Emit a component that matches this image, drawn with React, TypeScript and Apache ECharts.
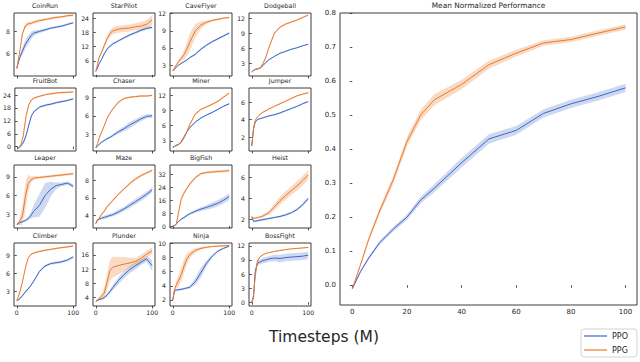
import React, { useEffect, useRef } from "react";
import * as echarts from "echarts";

// Timesteps (M) at which values were read
const STEPS = [0, 3, 6, 10, 15, 20, 25, 30, 40, 50, 60, 70, 80, 90, 100];

const ENV_NAMES = [
  "CoinRun", "StarPilot", "CaveFlyer", "Dodgeball",
  "FruitBot", "Chaser", "Miner", "Jumper",
  "Leaper", "Maze", "BigFish", "Heist",
  "Climber", "Plunder", "Ninja", "BossFight",
];

const PPO_RETURNS: number[][] = [
  [4.6, 5.2, 5.7, 6.2, 6.8, 7.2, 7.6, 7.85, 8.0, 8.15, 8.3, 8.4, 8.5, 8.65, 8.8],
  [1.5, 3.0, 4.8, 6.5, 9.0, 11.0, 12.2, 13.2, 14.5, 15.8, 17.0, 18.0, 19.0, 19.8, 20.3],
  [2.0, 2.3, 2.6, 3.0, 3.3, 3.6, 3.9, 4.3, 4.9, 5.8, 6.5, 7.1, 7.6, 8.1, 8.6],
  [1.3, 1.6, 1.8, 1.9, 2.1, 2.6, 3.2, 3.7, 4.4, 5.0, 5.4, 5.8, 6.1, 6.5, 6.8],
  [-0.8, -0.3, 0.5, 1.8, 5.0, 10.0, 14.5, 16.5, 18.5, 19.3, 19.8, 20.5, 21.0, 21.5, 22.3],
  [0.8, 1.1, 1.4, 1.7, 2.0, 2.3, 2.5, 2.8, 3.4, 3.9, 4.5, 5.0, 5.5, 5.9, 6.0],
  [1.7, 1.9, 2.1, 2.3, 2.8, 3.8, 4.8, 5.6, 6.7, 7.5, 8.1, 8.6, 9.2, 9.8, 10.3],
  [1.0, 2.9, 3.7, 4.0, 4.1, 4.2, 4.3, 4.4, 4.55, 4.75, 5.0, 5.25, 5.5, 5.8, 6.05],
  [1.4, 1.5, 1.7, 1.8, 2.0, 2.3, 2.8, 3.5, 4.4, 6.0, 7.0, 7.6, 7.8, 8.0, 7.5],
  [3.1, 3.5, 3.6, 3.7, 3.8, 3.9, 4.0, 4.1, 4.4, 4.75, 5.15, 5.55, 5.95, 6.4, 6.9],
  [0, 0.3, 1.2, 2.8, 4.3, 5.3, 6.5, 7.6, 9.2, 10.5, 11.6, 12.8, 14.2, 16.0, 18.2],
  [2.2, 1.85, 1.85, 1.9, 1.95, 2.0, 2.05, 2.1, 2.2, 2.3, 2.45, 2.65, 2.95, 3.4, 4.0],
  [1.5, 1.6, 1.9, 2.3, 2.9, 3.4, 4.0, 4.7, 6.3, 7.2, 7.6, 7.75, 7.9, 8.2, 8.7],
  [2.8, 3.1, 3.3, 3.5, 3.9, 4.6, 5.6, 6.7, 8.7, 10.4, 11.8, 12.9, 13.9, 14.9, 13.0],
  [2.0, 3.3, 3.4, 3.45, 3.5, 3.6, 3.7, 3.8, 4.6, 5.9, 7.2, 8.2, 8.9, 9.3, 9.6],
  [0, 1.0, 6.5, 8.3, 8.6, 8.9, 9.0, 9.2, 9.4, 9.3, 9.5, 9.6, 9.7, 9.8, 10.0],
];

const PPG_RETURNS: number[][] = [
  [4.6, 5.5, 6.4, 7.8, 8.5, 8.7, 8.75, 8.85, 9.0, 9.1, 9.2, 9.3, 9.35, 9.45, 9.5],
  [1.5, 4.5, 7.5, 9.5, 12.5, 15.5, 17.5, 18.8, 19.5, 19.8, 20.0, 20.5, 20.8, 21.5, 23.5],
  [2.0, 2.5, 3.0, 3.6, 4.2, 4.8, 5.8, 7.0, 9.0, 10.0, 10.5, 10.8, 11.0, 11.2, 11.3],
  [1.3, 1.6, 1.8, 1.9, 2.1, 3.0, 4.3, 6.0, 9.0, 10.2, 10.8, 11.2, 11.6, 12.1, 12.6],
  [-0.8, 0, 1.0, 5.0, 14.0, 19.5, 21.8, 22.7, 23.5, 24.2, 24.6, 25.0, 25.2, 25.3, 25.5],
  [0.8, 1.5, 2.4, 3.3, 4.4, 5.6, 6.4, 7.1, 8.2, 8.8, 9.0, 9.1, 9.2, 9.2, 9.3],
  [1.7, 1.9, 2.1, 2.3, 2.7, 3.6, 4.8, 6.2, 8.3, 9.2, 9.7, 10.2, 10.8, 11.6, 12.4],
  [1.0, 3.0, 3.9, 4.3, 4.6, 4.85, 5.0, 5.2, 5.5, 5.8, 6.1, 6.4, 6.7, 6.9, 7.05],
  [1.4, 1.6, 2.0, 2.8, 5.7, 7.9, 8.5, 8.8, 8.9, 9.0, 9.1, 9.2, 9.3, 9.4, 9.5],
  [3.1, 3.5, 3.7, 4.1, 4.5, 5.0, 5.35, 5.7, 6.4, 7.0, 7.6, 8.1, 8.5, 8.8, 9.1],
  [0, 0.3, 1.0, 8.0, 17.0, 20.5, 23.3, 26.0, 30.0, 32.5, 33.2, 33.5, 33.8, 34.0, 34.3],
  [2.3, 2.1, 2.15, 2.2, 2.25, 2.35, 2.5, 2.65, 3.2, 3.8, 4.3, 4.75, 5.2, 5.7, 6.25],
  [1.5, 2.2, 3.1, 4.6, 6.8, 8.5, 9.1, 9.35, 9.6, 9.8, 9.95, 10.1, 10.25, 10.35, 10.5],
  [2.8, 3.2, 3.7, 4.2, 5.2, 8.4, 11.5, 12.5, 13.0, 13.4, 13.7, 14.2, 15.0, 16.2, 17.2],
  [2.0, 3.5, 4.1, 4.7, 5.6, 6.8, 7.8, 8.4, 9.0, 9.3, 9.45, 9.55, 9.6, 9.65, 9.7],
  [0, 1.5, 5.5, 8.8, 9.7, 10.1, 10.4, 10.55, 10.8, 11.0, 11.2, 11.35, 11.45, 11.55, 11.65],
];

// half-width of the shaded band around each curve
const PPO_SPREAD: number[][] = [
  [0.05, 0.1, 0.2, 0.35, 0.4, 0.4, 0.35, 0.25, 0.15, 0.12, 0.1, 0.1, 0.1, 0.1, 0.1],
  [0.2, 0.3, 0.4, 0.4, 0.5, 0.5, 0.5, 0.5, 0.5, 0.5, 0.5, 0.6, 0.6, 0.6, 0.6],
  [0.05, 0.1, 0.1, 0.1, 0.15, 0.15, 0.15, 0.15, 0.2, 0.2, 0.2, 0.2, 0.2, 0.2, 0.2],
  [0.1, 0.1, 0.1, 0.12, 0.12, 0.12, 0.12, 0.12, 0.12, 0.12, 0.12, 0.12, 0.12, 0.12, 0.12],
  [0.3, 0.3, 0.4, 0.5, 0.8, 0.8, 0.6, 0.5, 0.5, 0.5, 0.5, 0.5, 0.5, 0.5, 0.5],
  [0.05, 0.1, 0.1, 0.15, 0.15, 0.2, 0.2, 0.25, 0.3, 0.4, 0.5, 0.45, 0.4, 0.35, 0.3],
  [0.1, 0.1, 0.15, 0.15, 0.15, 0.15, 0.15, 0.15, 0.15, 0.15, 0.15, 0.15, 0.15, 0.15, 0.15],
  [0.05, 0.08, 0.08, 0.08, 0.08, 0.08, 0.08, 0.08, 0.08, 0.08, 0.08, 0.08, 0.08, 0.08, 0.08],
  [0.1, 0.1, 0.1, 0.15, 0.2, 0.3, 0.5, 1.0, 1.8, 2.0, 1.2, 0.5, 0.3, 0.3, 0.3],
  [0.05, 0.1, 0.1, 0.15, 0.2, 0.2, 0.2, 0.2, 0.25, 0.25, 0.3, 0.3, 0.3, 0.3, 0.3],
  [0.2, 0.3, 0.4, 0.5, 0.6, 0.8, 0.8, 0.8, 1.0, 1.2, 1.5, 1.8, 2.0, 2.0, 2.0],
  [0.1, 0.1, 0.1, 0.1, 0.1, 0.1, 0.1, 0.1, 0.1, 0.1, 0.1, 0.1, 0.12, 0.15, 0.15],
  [0.1, 0.15, 0.2, 0.2, 0.2, 0.2, 0.2, 0.2, 0.2, 0.2, 0.2, 0.2, 0.2, 0.2, 0.2],
  [0.1, 0.2, 0.2, 0.3, 0.4, 0.5, 0.6, 0.8, 1.0, 1.0, 1.0, 1.0, 0.8, 0.8, 1.5],
  [0.1, 0.15, 0.15, 0.15, 0.15, 0.15, 0.15, 0.2, 0.5, 0.7, 0.4, 0.2, 0.15, 0.1, 0.1],
  [0.1, 0.5, 0.8, 0.5, 0.5, 0.6, 0.6, 0.6, 0.7, 0.8, 0.8, 0.8, 0.8, 0.8, 0.8],
];

const PPG_SPREAD: number[][] = [
  [0.05, 0.1, 0.1, 0.15, 0.2, 0.2, 0.15, 0.15, 0.12, 0.1, 0.1, 0.1, 0.1, 0.1, 0.1],
  [0.2, 0.4, 0.6, 0.8, 1.0, 1.2, 1.5, 1.5, 1.5, 1.5, 1.5, 1.5, 1.8, 1.8, 2.0],
  [0.1, 0.15, 0.2, 0.3, 0.5, 0.8, 1.2, 1.5, 1.2, 0.6, 0.3, 0.2, 0.2, 0.15, 0.15],
  [0.1, 0.1, 0.1, 0.1, 0.15, 0.2, 0.3, 0.3, 0.25, 0.2, 0.2, 0.15, 0.15, 0.15, 0.15],
  [0.3, 0.3, 0.4, 0.8, 1.0, 0.6, 0.5, 0.4, 0.4, 0.4, 0.4, 0.4, 0.4, 0.4, 0.4],
  [0.05, 0.1, 0.15, 0.2, 0.2, 0.2, 0.2, 0.2, 0.2, 0.15, 0.15, 0.15, 0.15, 0.15, 0.15],
  [0.1, 0.1, 0.15, 0.15, 0.2, 0.25, 0.25, 0.25, 0.2, 0.2, 0.2, 0.2, 0.2, 0.2, 0.2],
  [0.05, 0.08, 0.08, 0.08, 0.08, 0.08, 0.08, 0.08, 0.08, 0.08, 0.08, 0.08, 0.08, 0.08, 0.08],
  [0.1, 0.3, 0.8, 1.5, 2.2, 1.5, 0.5, 0.3, 0.2, 0.2, 0.2, 0.2, 0.2, 0.2, 0.2],
  [0.05, 0.1, 0.1, 0.15, 0.15, 0.15, 0.15, 0.15, 0.15, 0.15, 0.15, 0.15, 0.15, 0.15, 0.15],
  [0.2, 0.3, 0.5, 1.0, 1.2, 1.0, 1.0, 1.0, 0.8, 0.8, 0.8, 0.8, 0.8, 0.8, 0.8],
  [0.1, 0.1, 0.1, 0.1, 0.1, 0.15, 0.15, 0.2, 0.3, 0.35, 0.4, 0.4, 0.45, 0.45, 0.45],
  [0.1, 0.15, 0.15, 0.15, 0.15, 0.15, 0.15, 0.15, 0.15, 0.15, 0.15, 0.15, 0.15, 0.15, 0.15],
  [0.1, 0.2, 0.4, 0.8, 1.5, 2.5, 3.0, 3.0, 2.5, 2.0, 1.5, 1.0, 1.0, 1.0, 1.0],
  [0.1, 0.3, 0.5, 0.8, 1.0, 1.0, 0.8, 0.5, 0.3, 0.2, 0.15, 0.1, 0.1, 0.1, 0.1],
  [0.1, 0.4, 0.6, 0.4, 0.2, 0.15, 0.1, 0.1, 0.1, 0.1, 0.1, 0.1, 0.1, 0.1, 0.1],
];

const Y_LIMITS: [number, number][] = [
  [3.9, 9.7], [-0.5, 26.4], [1.1, 12.1], [0.5, 13.0],
  [-2.0, 27.3], [0.3, 10.5], [1.0, 13.4], [0.4, 7.6],
  [0.8, 10.9], [2.6, 9.7], [-1.2, 37.8], [1.2, 7.2],
  [0.6, 11.0], [1.5, 19.4], [1.15, 10.05], [-0.8, 12.6],
];

const Y_TICKS: number[][] = [
  [6, 8], [6, 12, 18, 24], [3, 6, 9, 12], [3, 6, 9, 12],
  [0, 6, 12, 18, 24], [3, 6, 9], [3, 6, 9, 12], [2, 4, 6],
  [3, 6, 9], [4, 6, 8], [0, 8, 16, 24, 32], [2, 4, 6],
  [3, 6, 9], [4, 8, 12, 16], [2, 4, 6, 8, 10], [0, 3, 6, 9, 12],
];

const SMALL_X_TICKS = [0, 100];

const MEAN_PPO = [-0.01, 0.04, 0.08, 0.125, 0.165, 0.2, 0.25, 0.285, 0.36, 0.43, 0.455, 0.505, 0.533, 0.555, 0.58];
const MEAN_PPG = [-0.01, 0.06, 0.135, 0.218, 0.31, 0.422, 0.5, 0.545, 0.59, 0.648, 0.682, 0.712, 0.722, 0.741, 0.759];
const MEAN_PPO_SPREAD = [0.003, 0.004, 0.005, 0.006, 0.007, 0.008, 0.01, 0.012, 0.014, 0.014, 0.013, 0.012, 0.012, 0.012, 0.012];
const MEAN_PPG_SPREAD = [0.003, 0.005, 0.007, 0.01, 0.012, 0.014, 0.016, 0.016, 0.014, 0.012, 0.01, 0.008, 0.008, 0.008, 0.008];
const MEAN_Y_TICKS = [0, 0.1, 0.2, 0.3, 0.4, 0.5, 0.6, 0.7, 0.8];
const MEAN_X_TICKS = [0, 20, 40, 60, 80, 100];

const ALGOS = ["PPO", "PPG"];

const FONT = "DejaVu Sans";
const INK = "#262626";
const COLORS: Record<string, string> = { PPO: "#3c67c6", PPG: "#ea7a2b" };
const BAND_COLORS: Record<string, string> = { PPO: "rgba(60,103,198,0.25)", PPG: "rgba(234,122,43,0.28)" };

const COL_LEFT = [14, 93, 170, 249];
const ROW_TOP = [13, 88, 165, 243];
const SMALL_W = 62;
const SMALL_H = 63;
const BIG = { left: 340, top: 13, width: 297, height: 292 };

function buildOption() {
  const grid: any[] = [];
  const xAxis: any[] = [];
  const yAxis: any[] = [];
  const series: any[] = [];
  const graphic: any[] = [];

  const addPanel = (
    idx: number,
    box: { left: number; top: number; width: number; height: number },
    yLim: [number, number],
    yTicks: number[],
    xLim: [number, number],
    xTicks: number[],
    showXLabels: boolean,
    fontSize: number,
    yFmt: (v: number) => string,
    values: Record<string, number[]>,
    spreads: Record<string, number[]>,
    lineWidth: number
  ) => {
    grid.push({
      left: box.left, top: box.top, width: box.width, height: box.height,
      show: true, borderColor: INK, borderWidth: 0.9, backgroundColor: "transparent",
      containLabel: false,
    });
    xAxis.push({
      type: "value", gridIndex: idx, min: xLim[0], max: xLim[1],
      axisLine: { show: false },
      splitLine: { show: false },
      axisTick: { show: true, inside: false, length: 2.5, customValues: xTicks, lineStyle: { color: INK, width: 0.8 } },
      axisLabel: {
        show: showXLabels, customValues: xTicks, margin: 3.5,
        fontFamily: FONT, fontSize, color: INK, showMinLabel: true, showMaxLabel: true,
      },
    });
    yAxis.push({
      type: "value", gridIndex: idx, min: yLim[0], max: yLim[1],
      axisLine: { show: false },
      splitLine: { show: false },
      axisTick: { show: true, inside: false, length: 2.5, customValues: yTicks, lineStyle: { color: INK, width: 0.8 } },
      axisLabel: {
        show: true, customValues: yTicks, margin: 4,
        fontFamily: FONT, fontSize, color: INK, formatter: (v: number) => yFmt(v),
      },
    });
    for (const algo of ALGOS) {
      const v = values[algo];
      const s = spreads[algo];
      const upper = STEPS.map((x, k) => [x, v[k] + s[k]]);
      const lower = STEPS.map((x, k) => [x, v[k] - s[k]]);
      series.push({
        type: "custom", name: `${algo} band`, xAxisIndex: idx, yAxisIndex: idx,
        silent: true, z: 1, clip: true,
        data: [[STEPS[0], v[0]]],
        renderItem: (params: any, api: any) => {
          const pts = upper.map((p) => api.coord(p)).concat(lower.slice().reverse().map((p) => api.coord(p)));
          return {
            type: "polygon",
            shape: { points: pts },
            style: { fill: BAND_COLORS[algo], stroke: "none" },
          };
        },
      });
    }
    for (const algo of ALGOS) {
      series.push({
        type: "line", name: algo, xAxisIndex: idx, yAxisIndex: idx,
        symbol: "none", showSymbol: false, z: 3,
        itemStyle: { color: COLORS[algo] },
        lineStyle: { color: COLORS[algo], width: lineWidth },
        data: STEPS.map((x, k) => [x, values[algo][k]]),
      });
    }
  };

  ENV_NAMES.forEach((name, i) => {
    const r = Math.floor(i / 4);
    const c = i % 4;
    const box = { left: COL_LEFT[c], top: ROW_TOP[r], width: SMALL_W, height: SMALL_H };
    addPanel(
      i, box, Y_LIMITS[i], Y_TICKS[i], [-5, 105], SMALL_X_TICKS, r === 3, 6.2,
      (v) => String(v),
      { PPO: PPO_RETURNS[i], PPG: PPG_RETURNS[i] },
      { PPO: PPO_SPREAD[i], PPG: PPG_SPREAD[i] },
      1
    );
    graphic.push({
      type: "text", x: box.left + box.width / 2, y: box.top - 7.5,
      style: { text: name, align: "center", verticalAlign: "middle", fontFamily: FONT, fontSize: 6.3, fill: INK },
    });
  });

  addPanel(
    16, BIG, [-0.058, 0.8], MEAN_Y_TICKS, [-4.5, 104.2], MEAN_X_TICKS, true, 7,
    (v) => v.toFixed(1),
    { PPO: MEAN_PPO, PPG: MEAN_PPG },
    { PPO: MEAN_PPO_SPREAD, PPG: MEAN_PPG_SPREAD },
    1
  );
  graphic.push({
    type: "text", x: BIG.left + BIG.width / 2, y: 5,
    style: { text: "Mean Normalized Performance", align: "center", verticalAlign: "middle", fontFamily: FONT, fontSize: 7.4, fill: INK },
  });
  graphic.push({
    type: "text", x: 324, y: 337,
    style: { text: "Timesteps (M)", align: "center", verticalAlign: "middle", fontFamily: FONT, fontSize: 15.5, fill: INK },
  });

  return {
    animation: false,
    backgroundColor: "#ffffff",
    grid, xAxis, yAxis, series, graphic,
    legend: {
      data: ALGOS,
      orient: "vertical",
      left: 581, top: 329,
      icon: "rect", itemWidth: 23, itemHeight: 1.2, itemGap: 6,
      padding: [3, 9, 3, 3],
      borderColor: "#d4d4d4", borderWidth: 1, borderRadius: 3,
      backgroundColor: "#ffffff",
      textStyle: { fontFamily: FONT, fontSize: 8, color: INK },
      selectedMode: false,
    },
  };
}

export default function App() {
  const ref = useRef<HTMLDivElement>(null);
  useEffect(() => {
    if (!ref.current) return;
    const chart = echarts.init(ref.current, undefined, { renderer: "svg" });
    chart.setOption(buildOption() as any);
    return () => chart.dispose();
  }, []);
  return (
    <div
      ref={ref}
      style={{ position: "absolute", left: 0, top: 0, width: 640, height: 362, background: "#fff" }}
    />
  );
}
